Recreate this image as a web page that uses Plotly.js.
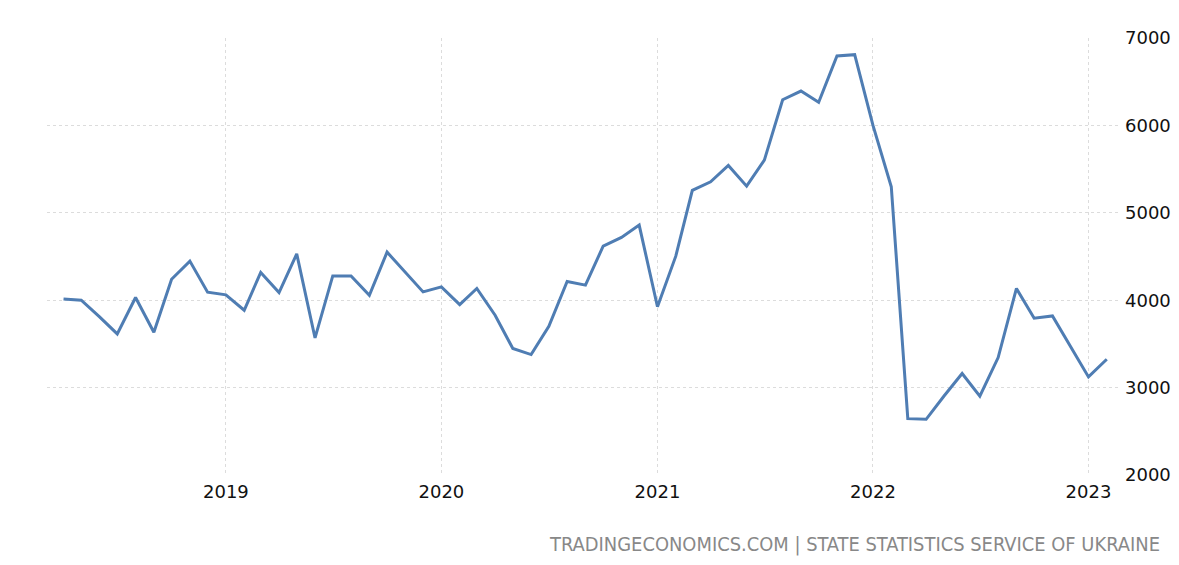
<!DOCTYPE html>
<html>
<head>
<meta charset="utf-8">
<script src="https://cdn.plot.ly/plotly-3.0.1.min.js"></script>
<style>
html,body{margin:0;padding:0;background:#fff;}
#chart{width:1179px;height:565px;}
</style>
</head>
<body>
<div id="chart"></div>
<script>
const months = [
  '2018-04-01','2018-05-01','2018-06-01','2018-07-01','2018-08-01','2018-09-01','2018-10-01','2018-11-01','2018-12-01',
  '2019-01-01','2019-02-01','2019-03-01','2019-04-01','2019-05-01','2019-06-01','2019-07-01','2019-08-01','2019-09-01','2019-10-01','2019-11-01','2019-12-01',
  '2020-01-01','2020-02-01','2020-03-01','2020-04-01','2020-05-01','2020-06-01','2020-07-01','2020-08-01','2020-09-01','2020-10-01','2020-11-01','2020-12-01',
  '2021-01-01','2021-02-01','2021-03-01','2021-04-01','2021-05-01','2021-06-01','2021-07-01','2021-08-01','2021-09-01','2021-10-01','2021-11-01','2021-12-01',
  '2022-01-01','2022-02-01','2022-03-01','2022-04-01','2022-05-01','2022-06-01','2022-07-01','2022-08-01','2022-09-01','2022-10-01','2022-11-01','2022-12-01',
  '2023-01-01','2023-02-01'
];
const values = [
  4015,4000,3809,3614,4031,3634,4240,4447,4092,
  4061,3885,4317,4088,4530,3568,4278,4278,4057,4550,4322,4095,
  4153,3950,4134,3828,3447,3378,3702,4214,4172,4618,4718,4859,
  3925,4504,5257,5355,5542,5305,5603,6294,6393,6264,6794,6809,
  6000,5298,2645,2637,2901,3161,2901,3344,4134,3794,3820,3473,
  3122,3324
];
const yearTicks = ['2019-01-01','2020-01-01','2021-01-01','2022-01-01','2023-01-01'];
const yearLabels = ['2019','2020','2021','2022','2023'];
const yTicks = [2000,3000,4000,5000,6000,7000];
const sourceText = 'TRADINGECONOMICS.COM | STATE STATISTICS SERVICE OF UKRAINE';

const trace = {
  x: months, y: values, type: 'scatter', mode: 'lines',
  line: {color: '#4f7db3', width: 3}, hoverinfo: 'x+y'
};
const layout = {
  width: 1179, height: 565,
  margin: {l: 47, r: 61, t: 38, b: 90},
  paper_bgcolor: '#ffffff', plot_bgcolor: '#ffffff',
  showlegend: false,
  font: {family: 'DejaVu Sans, sans-serif', size: 18, color: '#000'},
  xaxis: {
    type: 'date', range: ['2018-03-04', '2023-02-20'],
    tickvals: yearTicks, ticktext: yearLabels,
    showgrid: true, gridcolor: '#dcdcdc', griddash: 'dot', gridwidth: 1,
    zeroline: false, showline: false, ticks: '', ticklabelstandoff: 4,
    tickfont: {family: 'DejaVu Sans, sans-serif', size: 18, color: '#111'}
  },
  yaxis: {
    side: 'right', range: [2000, 7000], tickvals: yTicks,
    showgrid: true, gridcolor: '#dcdcdc', griddash: 'dot', gridwidth: 1,
    zeroline: false, showline: false, ticks: '', ticklabelstandoff: 6,
    tickfont: {family: 'DejaVu Sans, sans-serif', size: 18, color: '#111'}
  },
  annotations: [{
    text: sourceText, xref: 'paper', yref: 'paper',
    x: 1.041, y: -0.160, xanchor: 'right', yanchor: 'middle',
    showarrow: false,
    font: {family: 'DejaVu Sans Condensed, DejaVu Sans, sans-serif', size: 19.9, color: '#888888'}
  }]
};
Plotly.newPlot('chart', [trace], layout, {displayModeBar: false, staticPlot: true});
</script>
</body>
</html>
